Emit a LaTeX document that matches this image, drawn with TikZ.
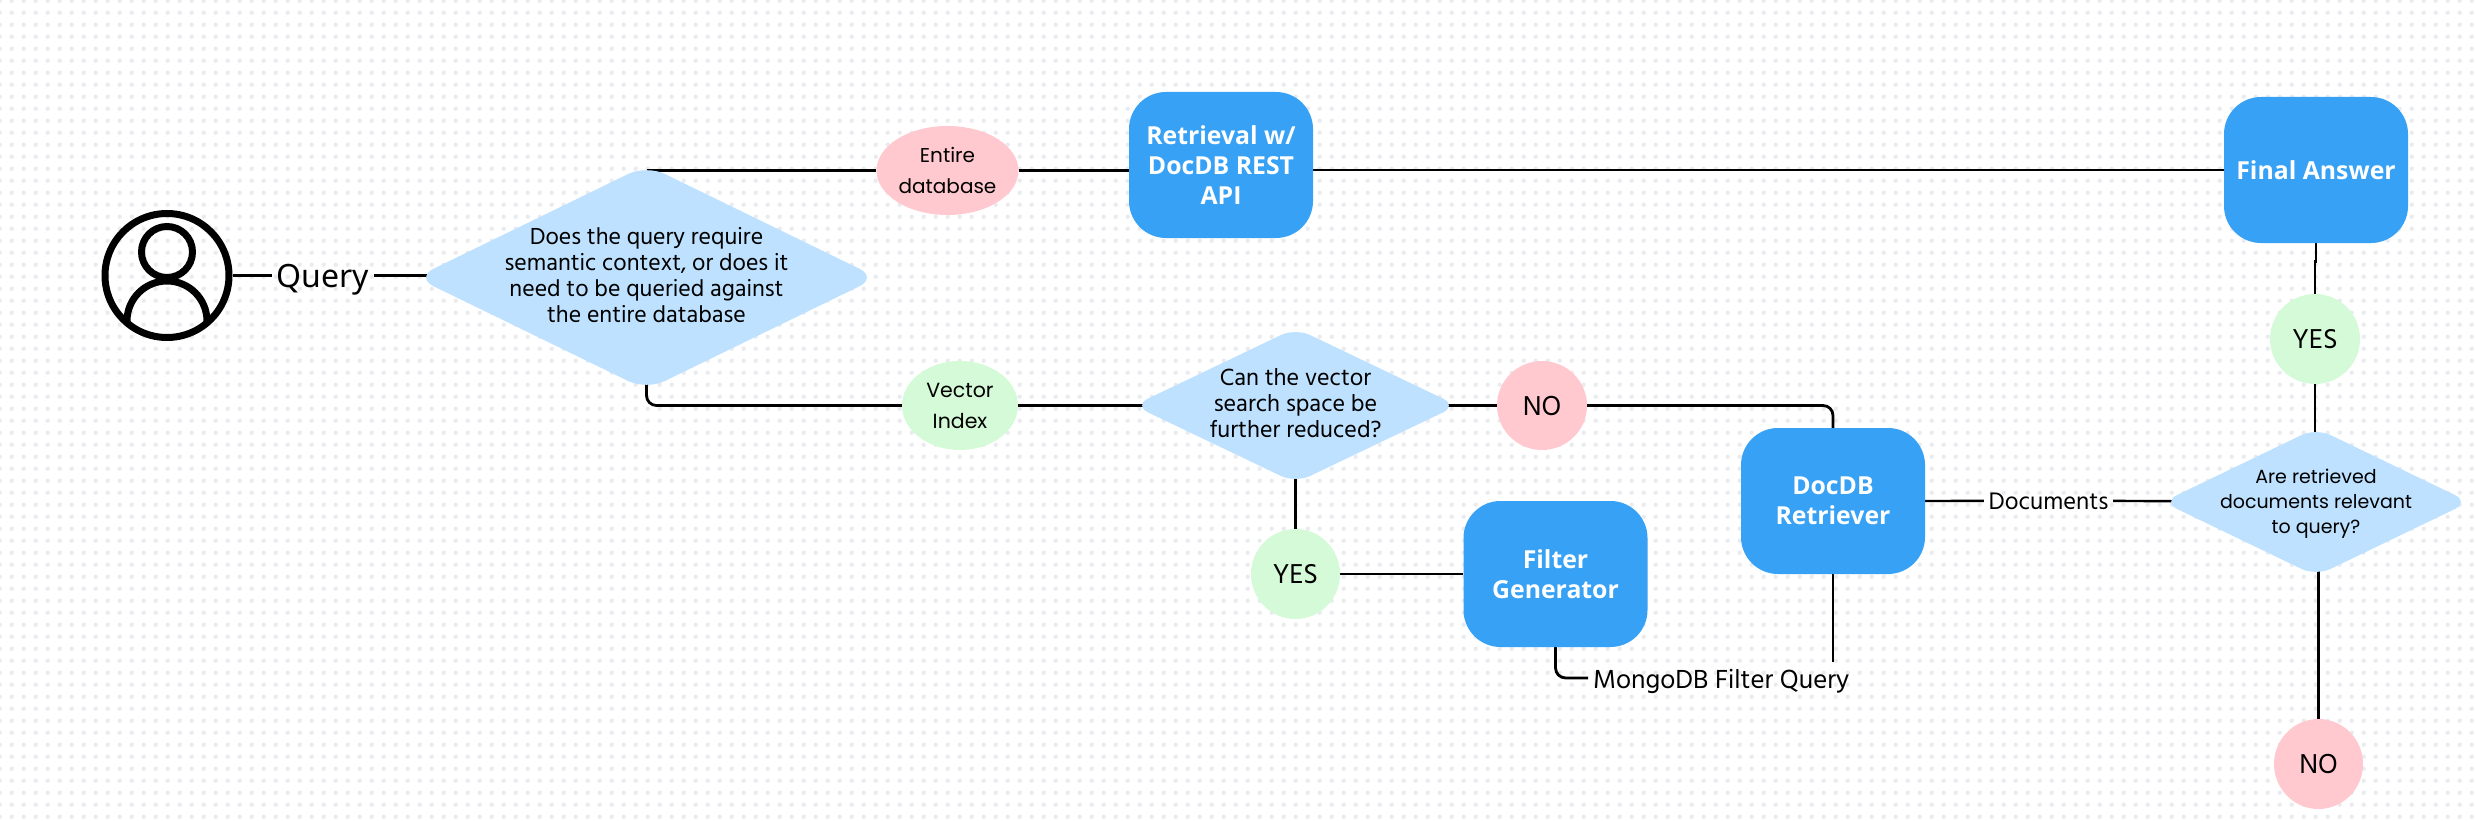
\documentclass[tikz,border=0pt]{standalone}
\usepackage{fontspec}
\usetikzlibrary{shapes.geometric,backgrounds,calc}
\newfontfamily\hindf{Hind Madurai}
\newfontfamily\popf{Poppins}
\newfontfamily\notof{Noto Sans}
\newfontfamily\boldf{Open Sans}
\definecolor{boxblue}{HTML}{36A1F5}
\definecolor{diablue}{HTML}{BDE1FE}
\definecolor{pinkc}{HTML}{FFC9CF}
\definecolor{greenc}{HTML}{D4FAD8}
\definecolor{dotc}{HTML}{E9EBEF}
\newcommand\diatext[2][-5.5pt]{\smash{\makebox[0pt]{\raisebox{#1}{\begin{tabular}{@{}c@{}}#2\end{tabular}}}}}
\tikzset{
  conn/.style={draw=black,line width=2.8pt,rounded corners=10pt},
  thinconn/.style={draw=black,line width=2.4pt},
  bluebox/.style={rectangle,rounded corners=37pt,fill=boxblue,text=white,minimum width=184pt,minimum height=146pt,inner sep=0pt,align=center,font=\boldf\bfseries\fontsize{24.8}{30}\selectfont},
  dia/.style={diamond,fill=diablue,inner sep=0pt,text=black},
  oval/.style={ellipse,inner sep=0pt,text=black,align=center},
  pinkoval/.style={oval,fill=pinkc},
  greenoval/.style={oval,fill=greenc},
  lbl/.style={inner ysep=3pt,text=black},
  ringline/.style={draw=black,line width=7pt,circle,inner sep=0pt},
}
\begin{document}
\begin{tikzpicture}[x=1pt,y=-1pt]
\useasboundingbox (0,0) rectangle (2476,821);
\begin{scope}[on background layer]
\foreach \r in {0,...,68}{
  \draw[dotc,line width=4.4pt,line cap=round,dash pattern=on 0pt off 12pt] (-0.3,{12*\r+0.7}) -- (2480,{12*\r+0.7});
}
\end{scope}
% user icon
\node[ringline,minimum size=124pt] (user) at (167,275.5) {};
\node[ringline,minimum size=51pt] (head) at (167,252) {};
\draw[black,line width=7pt] (127,324) -- (127,321) arc[start angle=180,end angle=0,radius=40pt] -- (207,324);
% labels
\node[lbl,anchor=base,inner xsep=5pt,font=\notof\fontsize{32}{36}\selectfont] (query) at (323,287) {Query};
\node[lbl,anchor=base,inner xsep=4.5pt,font=\hindf\fontsize{24.5}{26}\selectfont] (docs) at (2048.5,509) {Documents};
\node[lbl,anchor=base west,inner xsep=5pt,inner ysep=7pt,font=\hindf\fontsize{26.8}{30}\selectfont] (mongo) at (1588,688) {MongoDB Filter Query};
% diamonds
\node[dia,minimum width=462pt,minimum height=225pt,rounded corners=20pt,font=\hindf\fontsize{23.8}{26}\selectfont] (d1) at (646.5,277.5)
  {\diatext[-7.5pt]{Does the query require\\semantic context, or does it\\need to be queried against\\the entire database}};
\node[dia,minimum width=324pt,minimum height=155pt,rounded corners=16pt,font=\hindf\fontsize{24}{26}\selectfont] (d2) at (1295.5,405.5)
  {\diatext[-7.5pt]{Can the vector\\search space be\\further reduced?}};
\node[dia,minimum width=307pt,minimum height=148pt,rounded corners=16pt,font=\popf\fontsize{19}{25}\selectfont] (d3) at (2316,502)
  {\diatext{Are retrieved\\documents relevant\\to query?}};
% ovals
\node[pinkoval,minimum width=142pt,minimum height=89pt,font=\popf\fontsize{20}{31}\selectfont] (ent) at (947.5,170.5) {Entire\\database};
\node[greenoval,minimum width=116pt,minimum height=89pt,font=\popf\fontsize{20.5}{31}\selectfont] (vec) at (960,405.5) {Vector\\Index};
\node[pinkoval,minimum width=90pt,minimum height=89pt,font=\hindf\fontsize{28}{30}\selectfont] (no1) at (1542,405.5) {NO};
\node[greenoval,minimum width=89pt,minimum height=90pt,font=\hindf\fontsize{28}{30}\selectfont] (yes1) at (1295.5,574) {YES};
\node[greenoval,minimum width=90pt,minimum height=90pt,font=\hindf\fontsize{28}{30}\selectfont] (yes2) at (2315,339) {YES};
\node[pinkoval,minimum width=89pt,minimum height=90pt,font=\hindf\fontsize{28}{30}\selectfont] (no2) at (2318.5,764) {NO};
% boxes
\node[bluebox] (retr) at (1221,165) {Retrieval w/\\DocDB REST\\API};
\node[bluebox] (final) at (2316,170) {Final Answer};
\node[bluebox] (doc) at (1833,501) {DocDB\\Retriever};
\node[bluebox] (filter) at (1555.5,574) {Filter\\Generator};
% connectors
\begin{scope}[on background layer]
\draw[thinconn] (user.east) -- (query.west |- user.east);
\draw[thinconn] (query.east |- user.east) -- (d1.center |- user.east);
\draw[conn] (ent.west) -- (ent.west -| d1.north);
\draw[conn] (ent.east) -- (ent.east -| retr.west);
\draw[conn] (retr.east |- final.west) -- (final.west);
\draw[conn] (d1.center) |- (vec.west);
\draw[conn] (vec.east) -- (d2.center);
\draw[conn] (d2.center) -- (no1.west);
\draw[conn] (no1.east) -| (doc.north);
\draw[conn] (d2.center) -- (yes1.north);
\draw[conn] (yes1.east) -- (filter.west);
\draw[conn] (filter.south) |- ([yshift=3pt]mongo.west);
\draw[conn] (doc.south) -- (doc.south |- mongo.north);
\draw[thinconn] (doc.east) -- (docs.west);
\draw[thinconn] (docs.east) -- (d3.center);
\draw[conn,rounded corners=0pt] (final.south) -- ++(0,18) -- ++(-1,0) -- (yes2.north);
\draw[conn] (yes2.south) -- (yes2.south |- d3.center);
\draw[conn] (no2.north |- d3.center) -- (no2.north);
\end{scope}
\end{tikzpicture}
\end{document}
